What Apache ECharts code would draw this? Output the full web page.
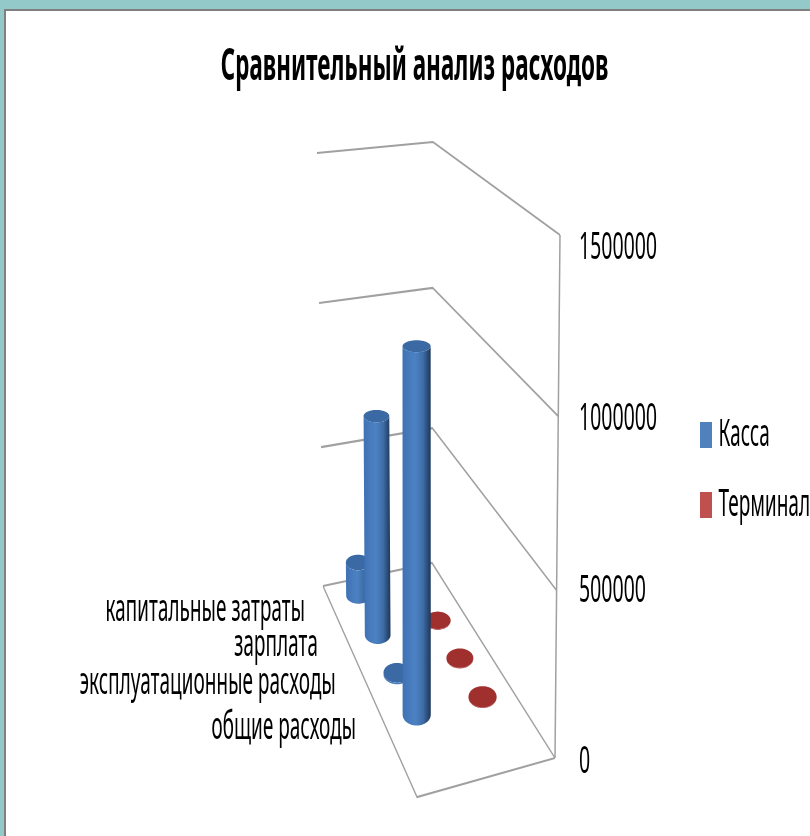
<!DOCTYPE html>
<html><head><meta charset="utf-8">
<script src="https://cdn.jsdelivr.net/npm/echarts@6/dist/echarts.min.js"></script>
<style>
html,body{margin:0;padding:0;width:810px;height:836px;overflow:hidden;background:#93c9c9}
#frame{position:absolute;left:4px;top:9px;width:806px;height:827px;background:#fff;border-left:2px solid #808080;border-top:2px solid #808080;box-sizing:border-box}
#chart{position:absolute;left:0;top:0;width:1620px;height:836px;transform:scaleX(.5);transform-origin:0 0}
</style></head><body>
<div id="frame"></div><div id="chart"></div>
<script>
const categories=['капитальные затраты','зарплата','эксплуатационные расходы','общие расходы'];
const seriesNames=['Касса','Терминал'];
const kassa=[120000,740000,5000,1130000];
const terminal=[2000,2000,2000,2000];
const tickValues=[0,500000,1000000,1500000];
const titleText='Сравнительный анализ расходов';

const SX=2,FONT='"Noto Sans","Open Sans",sans-serif',MAXV=1500000;
const uPos=[0.255,0.77],vPos=[0.075,0.265,0.455,0.65];
const labelDX=[-25,-30,-30,-28],labelDY=[8,3,1,5];
const floor={L:[323,586],B:[432,563],F:[417,797],R:[555,758]};
const roof={L:[317,153],B:[433,142],F:[418,262],R:[560,235]};
function bil(c,u,v,k){return (1-u)*(1-v)*c.L[k]+u*(1-v)*c.B[k]+(1-u)*v*c.F[k]+u*v*c.R[k];}
function project(api,u,v,val){
  const y0=api.coord([0,0])[1],y1=api.coord([0,MAXV])[1];
  const t=(y0-api.coord([0,val])[1])/(y0-y1);
  const w=t/(1+0.06*(1-t));
  return [SX*(bil(floor,u,v,0)+(bil(roof,u,v,0)-bil(floor,u,v,0))*w),
          bil(floor,u,v,1)+(bil(roof,u,v,1)-bil(floor,u,v,1))*w];
}
function ell(c,rx,ry,a0,a1,n){const p=[];for(let i=0;i<=n;i++){const a=a0+(a1-a0)*i/n;p.push([c[0]+rx*Math.cos(a),c[1]+ry*Math.sin(a)]);}return p;}
function ratio(y){return 0.42+0.36*(y-345)/375;}
function cyl(sIdx,side,cap){
  return function(params,api){
    const i=api.value(0),val=api.value(1);
    const v=vPos[i],u=uPos[sIdx],rx=SX*(12+3.2*v);
    const b=project(api,u,v,0),t=project(api,u,v,val);
    const ryB=rx/SX*ratio(b[1]),ryT=rx/SX*ratio(t[1]);
    const pts=ell(b,rx,ryB,0,Math.PI,28).concat(ell(t,rx,ryT,Math.PI,0,28));
    return {type:'group',children:[
      {type:'polygon',shape:{points:pts},style:{fill:{type:'linear',x:0,y:0,x2:1,y2:0,colorStops:side}}},
      {type:'polygon',shape:{points:ell(t,rx,ryT,0,Math.PI*2,48)},style:{fill:cap}}
    ]};
  };
}
const blueSide=[{offset:0,color:'#3f72b4'},{offset:.45,color:'#4c82c4'},{offset:.72,color:'#3f6ea8'},{offset:1,color:'#1d3658'}];
const redSide=[{offset:0,color:'#a0302d'},{offset:1,color:'#962c2a'}];
const chart=echarts.init(document.getElementById('chart'),null,{renderer:'canvas'});
chart.setOption({
  animation:false,
  textStyle:{fontFamily:FONT},
  title:{text:titleText,left:SX*412,textAlign:'center',top:40,textStyle:{fontFamily:FONT,fontSize:45,fontWeight:'bold',color:'#000'}},
  legend:{data:seriesNames,orient:'vertical',left:SX*697.5,top:411,itemWidth:24,itemHeight:26,itemGap:32,icon:'rect',
    textStyle:{fontFamily:FONT,fontSize:38,lineHeight:26,color:'#000',padding:[0,0,0,8]}},
  grid:{left:SX*300,right:1620-SX*571,top:248,bottom:74},
  xAxis:{type:'category',data:categories,show:false},
  yAxis:{type:'value',position:'right',min:0,max:MAXV,interval:500000,
    axisLine:{show:false},axisTick:{show:false},splitLine:{show:false},
    axisLabel:{margin:16,fontFamily:FONT,fontSize:39,color:'#000',formatter:v=>String(v)}},
  series:[
    {type:'custom',name:'walls',silent:true,z:1,data:tickValues.map((v,i)=>[i,v]),encode:{x:0,y:1},clip:false,
      renderItem(params,api){
        const val=api.value(1),ls={stroke:'#a0a0a0',lineWidth:2.2,fill:null};
        const ch=[{type:'polyline',shape:{points:[project(api,0,0,val),project(api,1,0,val),project(api,1,1,val)]},style:ls}];
        if(val===0){
          ch.push({type:'polyline',shape:{points:[project(api,0,0,0),project(api,0,1,0),project(api,1,1,0)]},style:ls});
          ch.push({type:'line',shape:{x1:project(api,1,1,0)[0],y1:project(api,1,1,0)[1],x2:project(api,1,1,MAXV)[0],y2:project(api,1,1,MAXV)[1]},style:{stroke:'#a0a0a0',lineWidth:3}});
        }
        return {type:'group',children:ch};
      }},
    {type:'custom',name:'labels',silent:true,z:2,data:categories.map((c,i)=>[i,0]),encode:{x:0,y:1},clip:false,
      renderItem(params,api){
        const i=api.value(0),p=project(api,0,vPos[i],0);
        return {type:'text',style:{text:categories[i],x:p[0]+SX*labelDX[i],y:p[1]+labelDY[i],align:'right',verticalAlign:'middle',font:'38px '+FONT,fill:'#000'}};
      }},
    {type:'custom',name:seriesNames[1],z:3,itemStyle:{color:'#c0504d'},data:terminal.map((v,i)=>[i,v]),encode:{x:0,y:1},clip:false,
      renderItem:cyl(1,redSide,'#a0302d')},
    {type:'custom',name:seriesNames[0],z:4,itemStyle:{color:'#4f81bd'},data:kassa.map((v,i)=>[i,v]),encode:{x:0,y:1},clip:false,
      renderItem:cyl(0,blueSide,'#3a69a3')}
  ]
});
</script></body></html>
